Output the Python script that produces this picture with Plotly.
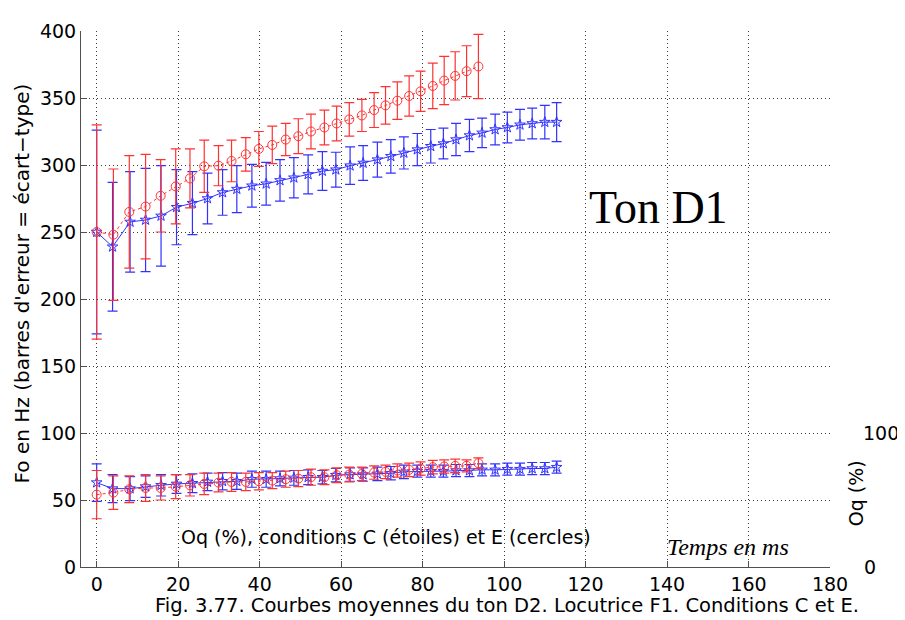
import plotly.graph_objects as go

# Temps (ms) des points moyens, condition C (étoiles) et E (cercles)
t_c = [0, 3.9, 8.2, 12.0, 15.8, 19.6, 23.5, 27.2, 30.9, 34.4, 38.1, 41.6, 45.0, 48.4,
       51.9, 55.4, 58.7, 62.2, 65.4, 68.9, 72.2, 75.4, 78.7, 82.0, 85.1, 88.2, 91.5,
       94.6, 97.8, 100.8, 103.9, 106.9, 110.0, 112.9]
t_e = [0, 4.1, 8.0, 12.0, 15.7, 19.4, 22.9, 26.4, 29.9, 33.1, 36.6, 39.8, 43.1, 46.4,
       49.5, 52.6, 55.9, 58.9, 62.0, 65.1, 68.1, 70.9, 73.8, 76.7, 79.5, 82.5, 85.3,
       88.0, 90.8, 93.7]

# Fo (Hz) et écart-type
f0_c = [250, 239, 257.5, 259, 262, 268.5, 271.5, 275, 279.5, 282, 284.5, 286, 288.5,
        290.5, 293, 295.5, 296.5, 299.5, 301.5, 304, 306.5, 309, 311.5, 314, 316, 319,
        322, 324, 326.5, 328, 330, 331, 332, 332]
f0_c_err = [76, 48, 37.5, 38.5, 37.5, 28, 23.5, 19, 17, 17.5, 16, 16, 15.5, 15, 14.5,
            14.5, 13, 14, 13, 13, 12.5, 12, 12, 12.5, 11.5, 12, 12, 11, 11.5, 11.5,
            11.5, 11.5, 12.5, 14.5]
f0_e = [250, 248, 265, 269, 277, 284, 290, 299, 299.5, 303, 308, 312, 315, 319, 321.5,
        325, 328, 331, 334, 337, 341, 344.5, 348, 351.5, 355, 359, 363, 366.5, 370, 373.5]
f0_e_err = [80, 49, 42, 39, 27, 28, 22, 19.5, 15, 15.5, 12.5, 13, 14, 12, 13, 13, 13,
            13, 12.5, 12, 13, 14, 14, 15, 15, 17, 18, 18, 19, 24]

# Oq (%) et écart-type
oq_c = [63, 58.5, 58.5, 60, 61, 62, 62.5, 63.5, 64, 64, 65.5, 65.5, 66, 66.5, 67, 67,
        68.5, 69, 69, 69.5, 70, 71, 71.5, 71.5, 71.5, 72, 72, 72.5, 72.5, 73, 73, 73.5,
        73.5, 74.5]
oq_c_err = [14, 10.5, 9, 8, 8, 7, 7, 6.5, 6.5, 6, 6, 6, 5.5, 5.5, 5.5, 5, 5, 5, 5, 5,
            5, 5, 4.5, 4.5, 4.5, 4.5, 4.5, 4.5, 4.5, 4.5, 4.5, 4.5, 4.5, 4.5]
oq_e = [54, 55.5, 58, 59, 59, 60, 61, 62, 63, 63.5, 63.5, 64, 64.5, 65.5, 66, 67, 67,
        68.5, 69, 69.5, 70.5, 71, 72, 72.5, 73.5, 74.5, 75, 75.5, 75.5, 77.5]
oq_e_err = [18, 12.5, 10, 10, 9, 9, 8, 8, 7, 7, 6.5, 6.5, 6, 6, 6, 6, 5.5, 5.5, 5.5, 5,
            5, 5, 5, 5, 5, 5, 5, 5, 4.5, 4]

x_ticks = [0, 20, 40, 60, 80, 100, 120, 140, 160, 180]
y_ticks = [0, 50, 100, 150, 200, 250, 300, 350, 400]

BLUE = "rgb(50,50,255)"
RED = "rgb(255,50,50)"
SANS = "DejaVu Sans"


def serie(x, y, err, color, symbol, dash, size):
    return go.Scatter(
        x=x,
        y=y,
        mode="lines+markers",
        line=dict(color=color, width=1, dash=dash),
        marker=dict(symbol=symbol, size=size, color=color, line=dict(color=color, width=1)),
        error_y=dict(type="data", array=err, color=color, thickness=1.2, width=5),
        showlegend=False,
    )


fig = go.Figure()
fig.add_trace(serie(t_c, f0_c, f0_c_err, BLUE, "star-open", "solid", 8))
fig.add_trace(serie(t_e, f0_e, f0_e_err, RED, "circle-open", "dot", 9))
fig.add_trace(serie(t_c, oq_c, oq_c_err, BLUE, "star-open", "solid", 8))
fig.add_trace(serie(t_e, oq_e, oq_e_err, RED, "circle-open", "dot", 9))

axis_style = dict(
    showgrid=True,
    gridcolor="rgb(60,60,60)",
    gridwidth=1,
    griddash="1px,3px",
    showline=True,
    linecolor="rgb(80,80,80)",
    linewidth=1,
    ticks="inside",
    ticklen=6,
    tickcolor="rgb(80,80,80)",
    zeroline=False,
    tickfont=dict(family=SANS, size=19, color="black"),
)

fig.update_xaxes(range=[-3.85, 180], tickvals=x_ticks, ticklabelstandoff=0, **axis_style)
fig.update_yaxes(range=[0, 400], tickvals=y_ticks, ticklabelstandoff=0, **axis_style)

# la page ajoute une marge de 8 px : figure réduite d'autant
fig.update_layout(
    width=897,
    height=612,
    margin=dict(l=73, r=75, t=12, b=53),
    plot_bgcolor="white",
    paper_bgcolor="white",
    font=dict(family=SANS, size=19, color="black"),
    showlegend=False,
)

# Titre de l'axe vertical
fig.add_annotation(text="Fo en Hz (barres d'erreur = écart−type)", textangle=-90,
                   xref="paper", yref="paper", x=0, y=0.529, xshift=-59,
                   xanchor="center", yanchor="middle", showarrow=False,
                   font=dict(size=20))
# Axe de droite (Oq)
fig.add_annotation(text="100", xref="paper", yref="y", x=1, y=100, xshift=31,
                   xanchor="left", showarrow=False)
fig.add_annotation(text="0", xref="paper", yref="y", x=1, y=0, xshift=32,
                   xanchor="left", showarrow=False)
fig.add_annotation(text="Oq (%)", textangle=-90, xref="paper", yref="y", x=1, y=55,
                   xshift=26, xanchor="center", yanchor="middle", showarrow=False)

fig.add_annotation(text="Oq (%), conditions C (étoiles) et E (cercles)",
                   x=20.2, y=22.5, xanchor="left", showarrow=False)
fig.add_annotation(text="<i>Temps en ms</i>", x=139.5, y=15, xanchor="left",
                   showarrow=False,
                   font=dict(family="Liberation Serif", size=24))
fig.add_annotation(text="Ton D1", x=120.4, y=268, xanchor="left", showarrow=False,
                   font=dict(family="Liberation Serif", size=46))
fig.add_annotation(text="Fig. 3.77. Courbes moyennes du ton D2. Locutrice F1. Conditions C et E.",
                   xref="paper", yref="paper", x=0.569, y=-0.071, yanchor="middle",
                   showarrow=False, font=dict(size=19.5))

fig.write_html("out.html")
